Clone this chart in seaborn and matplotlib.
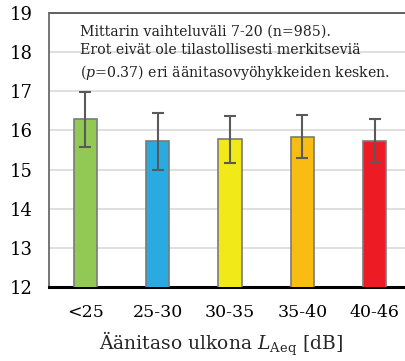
import matplotlib
matplotlib.use("Agg")
import matplotlib.pyplot as plt
import seaborn as sns
import pandas as pd
import numpy as np

categories = ["<25", "25-30", "30-35", "35-40", "40-46"]
means = [16.28, 15.72, 15.77, 15.84, 15.74]
errors = [0.70, 0.73, 0.60, 0.55, 0.56]
colors = ["#92c955", "#29abe2", "#f2e918", "#f9bc12", "#ed1c24"]
yticks = [12, 13, 14, 15, 16, 17, 18, 19]
note_lines = ["Mittarin vaihteluväli 7-20 (n=985).",
              "Erot eivät ole tilastollisesti merkitseviä",
              "($\\it{p}$=0.37) eri äänitasovyöhykkeiden kesken."]

sns.set_theme(style="white")
plt.rcParams['font.family'] = ['DejaVu Serif', 'DejaVu Sans']
plt.rcParams['mathtext.fontset'] = 'dejavuserif'

df = pd.DataFrame({"cat": categories, "mean": means})

W, H = 406, 361
fig = plt.figure(figsize=(W / 100, H / 100), dpi=100)
ax = fig.add_axes([49 / W, 1 - 287 / H, (411 - 49) / W, (287 - 13) / H])

sns.barplot(data=df, x="cat", y="mean", hue="cat", palette=colors, legend=False,
            saturation=1, width=0.32, edgecolor="#7a7a7a", linewidth=1.2, ax=ax, zorder=3)
ax.errorbar(np.arange(len(categories)), means, yerr=errors, fmt="none",
            ecolor="#5a5a5a", elinewidth=1.5, capsize=4, capthick=1.5, zorder=4)

ax.set_ylim(12, 19)
ax.set_yticks(yticks)
ax.set_xlim(-0.5, len(categories) - 0.5)
ax.yaxis.grid(True, color="#d9d9d9", linewidth=1.2, zorder=0)
ax.set_axisbelow(True)
for s in ["top", "right"]:
    ax.spines[s].set_visible(False)
ax.spines["left"].set_color("#6a6a6a")
ax.spines["left"].set_linewidth(1.3)
ax.spines["bottom"].set_color("black")
ax.spines["bottom"].set_linewidth(2.2)
ax.axhline(19, color="#555555", linewidth=1.3, zorder=2, clip_on=False)

ax.tick_params(axis="y", labelsize=13, length=0, pad=12, colors="black")
ax.tick_params(axis="x", labelsize=12.5, length=0, pad=12, colors="black")
ax.set_ylabel("")
ax.set_xlabel("Äänitaso ulkona $\\it{L}_{\\mathrm{Aeq}}$ [dB]", fontsize=13.5, labelpad=6)
ax.xaxis.set_label_coords((221 - 49) / (411 - 49), -0.155)

ax.text(80 / W, 1 - 53 / H, "\n".join(note_lines), transform=fig.transFigure,
        fontsize=10.2, va="center", ha="left", linespacing=1.42, color="#222222")

fig.savefig("out.png", dpi=100)
